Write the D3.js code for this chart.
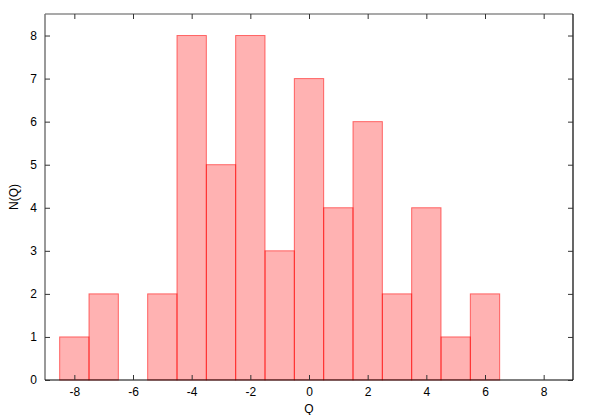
<!DOCTYPE html>
<html><head><meta charset="utf-8">
<script src="https://cdn.jsdelivr.net/npm/d3@7"></script>
<style>body{margin:0;background:#fff}svg{display:block}text{font-family:"Liberation Sans",Arial,sans-serif;font-size:12px;fill:#000}</style>
</head><body>
<svg id="c" width="593" height="415"></svg>
<script>
const binCenters = [-8,-7,-6,-5,-4,-3,-2,-1,0,1,2,3,4,5,6];
const counts     = [ 1, 2, 0, 2, 8, 5, 8, 3, 7, 4, 6, 2, 4, 1, 2];
const xTicks = [-8,-6,-4,-2,0,2,4,6,8];
const yTicks = [0,1,2,3,4,5,6,7,8];
const binWidth = 1;

const svg = d3.select("#c");
const L=45, R=573, T=14, B=380;
const x = d3.scaleLinear().domain([-9,9]).range([L,R]);
const y = d3.scaleLinear().domain([0,8.5]).range([B,T]);
const fmt = d => String(d);

// bars
svg.append("g").selectAll("rect").data(binCenters.map((c,i)=>({c,v:counts[i]})).filter(d=>d.v>0))
  .join("rect")
  .attr("x",d=>x(d.c-binWidth/2))
  .attr("y",d=>y(d.v))
  .attr("width",d=>x(d.c+binWidth/2)-x(d.c-binWidth/2))
  .attr("height",d=>y(0)-y(d.v))
  .attr("fill","rgba(255,0,0,0.3)")
  .attr("stroke","rgba(255,0,0,0.55)")
  .attr("stroke-width",1);

// frame
const g = svg.append("g");
g.append("line").attr("x1",L).attr("x2",R).attr("y1",T).attr("y2",T).attr("stroke","#555").attr("stroke-width",1.2);
g.append("line").attr("x1",R).attr("x2",R).attr("y1",T).attr("y2",B).attr("stroke","#000").attr("stroke-width",1.2);
g.append("line").attr("x1",L).attr("x2",L).attr("y1",T).attr("y2",B).attr("stroke","#777").attr("stroke-width",1.5);
g.append("line").attr("x1",L).attr("x2",R).attr("y1",B).attr("y2",B).attr("stroke","#000").attr("stroke-width",1.2);

// axes ticks via d3 axes
const xb = svg.append("g").attr("transform",`translate(0,${B})`)
  .call(d3.axisBottom(x).tickValues(xTicks).tickSize(-5).tickPadding(7).tickFormat(fmt));
const xt = svg.append("g").attr("transform",`translate(0,${T})`)
  .call(d3.axisTop(x).tickValues(xTicks).tickSize(-5).tickFormat(""));
const yl = svg.append("g").attr("transform",`translate(${L},0)`)
  .call(d3.axisLeft(y).tickValues(yTicks).tickSize(-5).tickPadding(8).tickFormat(fmt));
const yr = svg.append("g").attr("transform",`translate(${R},0)`)
  .call(d3.axisRight(y).tickValues(yTicks).tickSize(-5).tickFormat(""));
[xb,xt,yl,yr].forEach(a=>{
  a.select(".domain").remove();
  a.selectAll(".tick line").attr("stroke","#333").attr("stroke-width",1);
  a.selectAll("text").attr("font-family","Liberation Sans, Arial, sans-serif").attr("font-size",12).attr("fill","#000");
});

// labels
svg.append("text").attr("x",x(0)).attr("y",413).attr("text-anchor","middle").text("Q");
svg.append("text").attr("transform",`translate(14,${(T+B)/2}) rotate(-90)`).attr("text-anchor","middle").attr("dy","0.35em").text("N(Q)");
</script>
</body></html>
